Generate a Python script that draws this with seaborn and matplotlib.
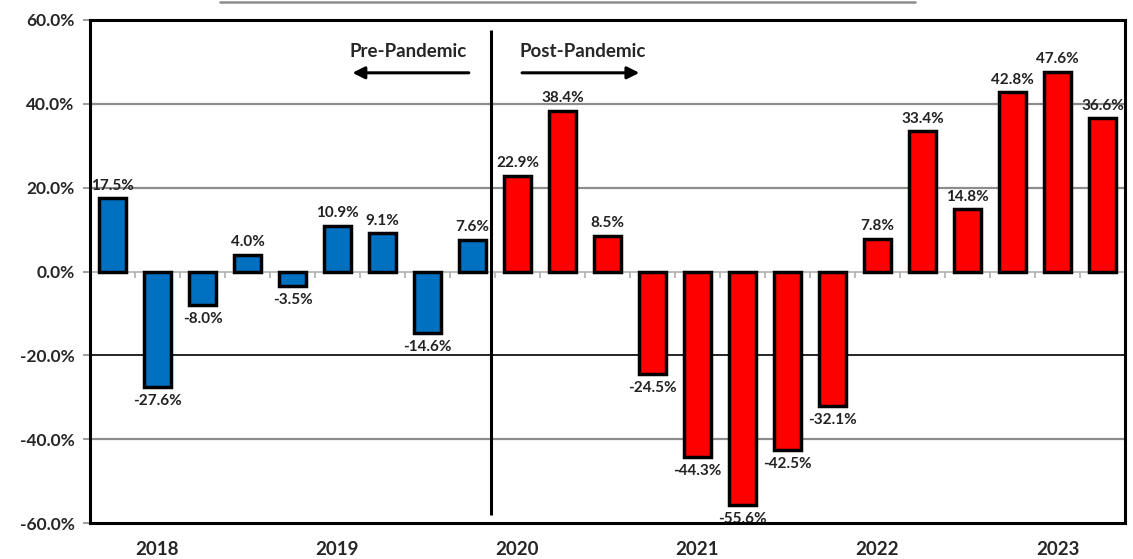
import numpy as np
import pandas as pd
import matplotlib
matplotlib.use("Agg")
import matplotlib.pyplot as plt
from matplotlib.lines import Line2D
import seaborn as sns

# ---------------- DATA ----------------
values = [17.5, -27.6, -8.0, 4.0, -3.5, 10.9, 9.1, -14.6, 7.6,
          22.9, 38.4, 8.5, -24.5, -44.3, -55.6, -42.5, -32.1,
          7.8, 33.4, 14.8, 42.8, 47.6, 36.6]
periods = ["Pre"] * 9 + ["Post"] * 14
year_labels = ["2018", "2019", "2020", "2021", "2022", "2023"]
year_positions = [1, 5, 9, 13, 17, 21]
y_ticks = [-60, -40, -20, 0, 20, 40, 60]

df = pd.DataFrame({"idx": list(range(len(values))), "value": values, "period": periods})

# ---------------- PLOT ----------------
sns.set_style("white")
plt.rcParams["font.family"] = ["Lato", "DejaVu Sans"]

fig = plt.figure(figsize=(11.33, 5.59), dpi=100)
ax = fig.add_axes([90 / 1133, 1 - 523 / 559, 1035 / 1133, 503 / 559])

# gridlines behind bars
for t in y_ticks[1:-1]:
    if t == 0:
        continue
    ax.axhline(t, color="black" if t == -20 else "#8c8c8c", lw=1.2 if t == -20 else 1.6, zorder=0)

sns.barplot(data=df, x="idx", y="value", hue="period", dodge=False,
            palette={"Pre": "#0070C0", "Post": "#FF0000"}, saturation=1,
            width=0.62, edgecolor="black", linewidth=2.5, legend=False, ax=ax, zorder=2)

# small ticks on zero line between bars
bounds = np.arange(len(values) - 1) + 0.5
ax.vlines(bounds, -1.6, 0, color="#b0b0b0", lw=1.2, zorder=1)
ax.axhline(0, color="#b0b0b0", lw=1.2, zorder=1)

# value labels
for i, v in enumerate(values):
    if v >= 0:
        ax.annotate(f"{v:.1f}%", (i, v), xytext=(0, 4), textcoords="offset points",
                    ha="center", va="bottom", fontsize=11, fontweight="bold", color="#222222", zorder=5)
    else:
        ax.annotate(f"{v:.1f}%", (i, v), xytext=(0, -5), textcoords="offset points",
                    ha="center", va="top", fontsize=11, fontweight="bold", color="#222222", zorder=1)

# pandemic divider and annotations
ax.vlines(8.42, -58, 57.5, color="black", lw=2.2, zorder=3)
ax.text(7.87, 52.6, "Pre-Pandemic", ha="right", va="center", fontsize=13.5, fontweight="bold")
ax.text(9.04, 52.6, "Post-Pandemic", ha="left", va="center", fontsize=13.5, fontweight="bold")
ax.annotate("", xy=(5.27, 47.4), xytext=(7.98, 47.4),
            arrowprops=dict(arrowstyle="-|>", color="black", lw=2.2, mutation_scale=18))
ax.annotate("", xy=(11.77, 47.4), xytext=(9.04, 47.4),
            arrowprops=dict(arrowstyle="-|>", color="black", lw=2.2, mutation_scale=18))

# axes formatting
ax.set_xlim(-0.5, len(values) - 0.5)
ax.set_ylim(-60, 60)
ax.set_yticks(y_ticks)
ax.set_yticklabels([f"{t:.1f}%" for t in y_ticks], fontsize=12.5, fontweight="bold")
ax.set_xticks(year_positions)
ax.set_xticklabels(year_labels, fontsize=13.5, fontweight="bold")
ax.tick_params(axis="x", length=0, pad=13)
ax.tick_params(axis="y", length=5, width=1.2, color="#8c8c8c", pad=6, left=True)
ax.set_xlabel("")
ax.set_ylabel("")
for side in ["left", "right", "top", "bottom"]:
    ax.spines[side].set_visible(True)
    ax.spines[side].set_color("black")
    ax.spines[side].set_linewidth(2.2)
ax.spines["bottom"].set_zorder(4)

# bottom edge of the cut-off title box
fig.add_artist(Line2D([220 / 1133, 915 / 1133], [1 - 2 / 559, 1 - 2 / 559],
                      color="#8c8c8c", lw=1.8))

fig.savefig("out.png", dpi=100)
